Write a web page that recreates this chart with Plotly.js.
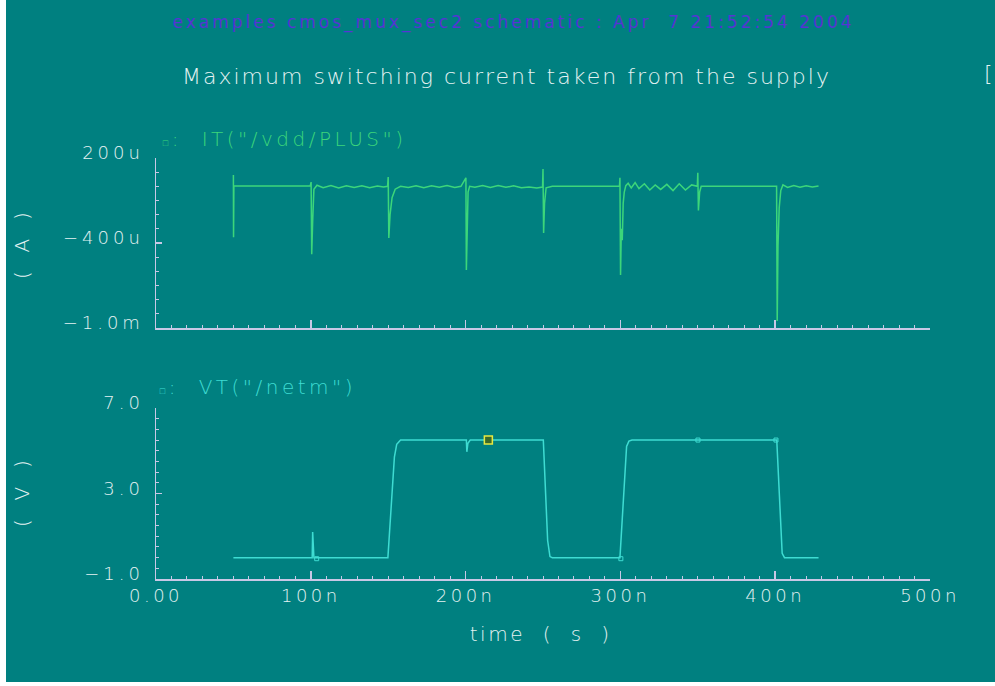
<!DOCTYPE html>
<html>
<head>
<meta charset="utf-8">
<script src="https://cdn.plot.ly/plotly-3.0.1.min.js"></script>
<style>
  html, body { margin: 0; padding: 0; background: #ffffff; width: 995px; height: 686px; overflow: hidden; }
  #chart { position: absolute; left: 6px; top: 0; width: 989px; height: 682px; }
  .ytick text, .y2tick text { letter-spacing: 4px; }
  .xtick text, .x2tick text { letter-spacing: 3.5px; }
  .annotation[data-index="0"] .annotation-text { letter-spacing: 3px; }
  .annotation[data-index="1"] .annotation-text { letter-spacing: 2px; }
  .annotation[data-index="3"] .annotation-text { letter-spacing: 3.5px; }
  .annotation[data-index="4"] .annotation-text { letter-spacing: 3.5px; }
  .annotation[data-index="5"] .annotation-text { letter-spacing: 2px; }
  .annotation[data-index="6"] .annotation-text { letter-spacing: 2px; }
  .annotation[data-index="7"] .annotation-text { letter-spacing: 2.5px; }
</style>
</head>
<body>
<div id="chart"></div>
<script>
// ---- data (time in ns) ----
const tIT = [50, 50.1, 50.3, 50.6, 99.6, 100.2, 100.6, 101.2, 102, 104, 108, 113, 118, 123, 128, 133, 138, 143, 147,
  149.6, 150, 150.4, 151.2, 152.5, 154.5, 158, 163, 168, 173, 178, 183, 188, 193, 197,
  200.2, 200.5, 200.9, 201.6, 202.6, 206, 211, 216, 221, 226, 231, 236, 241, 246,
  249.7, 250, 250.4, 251, 252, 256, 270, 285, 299.4,
  299.7, 300.1, 300.6, 301.2, 301.8, 302.5, 303.5, 305, 307, 309.5, 312, 315.5, 319, 322.5, 326, 330, 334, 338, 342, 346,
  349.7, 350, 350.4, 351.2, 352.2, 360, 375, 390, 400.9,
  401.3, 401.8, 402.6, 403.6, 405, 408, 412, 416, 420, 424, 428];
// current in uA
const iIT = [80, -360, 0, 2, 2, 30, -480, -250, -20, 8, -10, 5, -12, 4, -8, 4, -10, 3, -5,
  0, 65, -365, -200, -80, -20, 0, -8, 4, -10, 4, -7, 5, -8, 0,
  60, -590, -300, -40, 0, -7, 6, -8, 5, -7, 4, -10, -4, -12,
  -5, 122, -330, -120, -10, 0, 0, 0, 0,
  60, -625, -300, -380, -120, -40, 5, 22, -12, 26, -16, 18, -26, 10, -22, 14, -30, 18, -26, 10,
  0, 95, -170, -40, 0, 0, 0, 0, 0,
  -950, -420, -150, -30, 10, -8, 6, -7, 4, -5, 2];

const tVT = [50, 100.9, 101.2, 101.5, 102, 149.8, 151, 152.5, 154, 155.5, 158,
  200.5, 200.8, 201.5, 203, 250.2, 251.5, 253, 254.5, 256,
  299.7, 301, 302.5, 304, 305.5, 307.5, 401, 402.2, 403.5, 404.5, 406, 428];
// voltage in V
const vVT = [0, 0, 1.2, 0.1, 0, 0, 1.3, 3.0, 4.7, 5.3, 5.5,
  5.5, 4.95, 5.35, 5.5, 5.5, 3.5, 0.8, 0.05, 0,
  0, 1.6, 3.6, 5.2, 5.45, 5.5, 5.5, 3.6, 1.2, 0.2, 0, 0];

const markT = [103.8, 300.3, 350.1, 400.5];
const markV = [-0.05, -0.05, 5.5, 5.5];
const cursorT = [214.7];
const cursorV = [5.5];

const xTickVals = [0, 100, 200, 300, 400, 500];
const xTickText = ['0.00', '100n', '200n', '300n', '400n', '500n'];
const yITTickVals = [200, -400, -1000];
const yITTickText = ['200u', '\u2212400u', '\u22121.0m'];
const yVTTickVals = [7, 3, -1];
const yVTTickText = ['7.0', '3.0', '\u22121.0'];

const headerText = 'examples cmos_mux_sec2 schematic : Apr\u00a0\u00a07 21:52:54 2004';
const titleText = 'Maximum switching current taken from the supply';
const legendIT = 'IT("/vdd/PLUS")';
const legendVT = 'VT("/netm")';
const yITTitle = '(\u00a0\u00a0A\u00a0\u00a0)';
const yVTTitle = '(\u00a0\u00a0V\u00a0\u00a0)';
const xTitle = 'time\u00a0\u00a0(\u00a0\u00a0s\u00a0\u00a0)';

// ---- style ----
const BG = '#008080';
const AX = '#c8c8e6';
const TXT = '#e4f2f2';
const GREEN = '#3cd67a';
const CYAN = '#3edcd2';
const FONT = 'DejaVu Sans';

// original-image pixel -> paper coords (plot area 156..930 x 158..579)
const px = x => (x - 156) / 774;
const py = y => (579 - y) / 421;

const traces = [
  { x: tIT, y: iIT, xaxis: 'x', yaxis: 'y', mode: 'lines', line: { color: GREEN, width: 1.5 }, hoverinfo: 'skip' },
  { x: tVT, y: vVT, xaxis: 'x2', yaxis: 'y2', mode: 'lines', line: { color: CYAN, width: 1.5 }, hoverinfo: 'skip' },
  { x: markT, y: markV, xaxis: 'x2', yaxis: 'y2', mode: 'markers',
    marker: { symbol: 'square-open', size: 4, color: CYAN, line: { width: 1, color: CYAN } }, hoverinfo: 'skip' },
  { x: cursorT, y: cursorV, xaxis: 'x2', yaxis: 'y2', mode: 'markers',
    marker: { symbol: 'square', size: 8, color: '#3a6a2a', line: { width: 1.5, color: '#e8e840' } }, hoverinfo: 'skip' }
];

function xAxisBase(showLabels) {
  return {
    range: [0, 500], showgrid: false, zeroline: false, showline: true, linecolor: AX, linewidth: 1.5,
    ticks: 'inside', ticklen: 8, tickwidth: 1.5, tickcolor: AX,
    tickmode: 'array', tickvals: xTickVals, ticktext: xTickText, showticklabels: showLabels,
    tickfont: { family: FONT, size: 18, color: TXT, weight: 200 }, ticklabelstandoff: 0,
    minor: { tickmode: 'linear', tick0: 0, dtick: 10, ticks: 'inside', ticklen: 3, tickwidth: 1, tickcolor: AX, showgrid: false },
    fixedrange: true
  };
}
function yAxisBase(domain, range, vals, text, minorD) {
  return {
    domain: domain, range: range, showgrid: false, zeroline: false, showline: true, linecolor: AX, linewidth: 1.5,
    ticks: 'inside', ticklen: 6, tickwidth: 1.5, tickcolor: AX,
    tickmode: 'array', tickvals: vals, ticktext: text,
    tickfont: { family: FONT, size: 18, color: TXT, weight: 200 }, ticklabelstandoff: 7, ticklabelshift: -5,
    minor: { tickmode: 'linear', tick0: range[0], dtick: minorD, ticks: 'inside', ticklen: 3, tickwidth: 1, tickcolor: AX, showgrid: false },
    fixedrange: true
  };
}

const xa = xAxisBase(false); xa.anchor = 'y';
const xa2 = xAxisBase(true); xa2.anchor = 'y2';
const ya = yAxisBase([py(328), 1], [-1000, 200], yITTickVals, yITTickText, 100); ya.anchor = 'x';
const ya2 = yAxisBase([0, py(408)], [-1, 7], yVTTickVals, yVTTickText, 0.5); ya2.anchor = 'x2';

function ann(text, x, y, size, color, extra) {
  return Object.assign({ text: text, x: x, y: y, xref: 'paper', yref: 'paper', showarrow: false,
    xanchor: 'center', yanchor: 'middle', font: { family: FONT, size: size, color: color, weight: 200 } }, extra || {});
}

const legendMark = '<span style="font-size:9px">\u25a1</span>:\u00a0\u00a0';

const layout = {
  width: 989, height: 682,
  margin: { l: 150, r: 65, t: 158, b: 103, pad: 0 },
  paper_bgcolor: BG, plot_bgcolor: BG, showlegend: false,
  xaxis: xa, xaxis2: xa2, yaxis: ya, yaxis2: ya2,
  annotations: [
    ann(headerText, px(513), py(22), 17, '#5634d4', { font: { family: FONT, size: 17, color: '#5634d4', weight: 400 } }),
    ann(titleText, px(506), py(76), 22, TXT),
    ann('[', px(988), py(73), 22, TXT),
    ann(legendMark + legendIT, px(284), py(139), 20, GREEN),
    ann(legendMark + legendVT, px(258), py(387), 20, CYAN),
    ann(yITTitle, px(22), py(245), 20, TXT, { textangle: -90 }),
    ann(yVTTitle, px(22), py(493), 20, TXT, { textangle: -90 }),
    ann(xTitle, px(540), py(634), 20, TXT)
  ]
};

Plotly.newPlot('chart', traces, layout, { staticPlot: true, displayModeBar: false });
</script>
</body>
</html>
